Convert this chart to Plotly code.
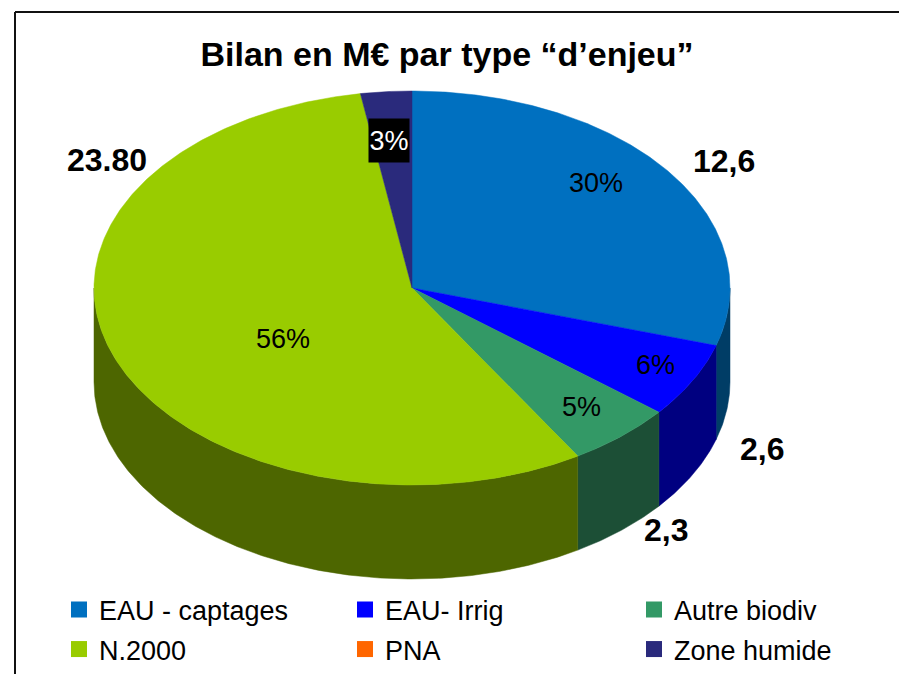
import math
import plotly.graph_objects as go

# Data
categories = ["EAU - captages", "EAU- Irrig", "Autre biodiv", "N.2000", "PNA", "Zone humide"]
values = [12.6, 2.6, 2.3, 23.8, 0.0, 1.1]
value_labels = ["12,6", "2,6", "2,3", "23.80", "", ""]
top_colors = ["#0070C0", "#0000FF", "#339966", "#99CC00", "#FF6600", "#2A2A7C"]
side_colors = ["#003D66", "#000080", "#1C4F36", "#4D6600", "#8C3800", "#161644"]

# Layout of the drawing (pixel scale of the axes)
CX, CY, RX, RY, DEPTH = 412, 288, 318, 197, 94
pct_pos = [(596, 183), (655, 365), (581, 407), (283, 339), None, (389, 140)]
val_pos = [(724, 161), (762, 449), (666, 530), (107, 160), None, None]
legend_x = [59, 345, 634, 59, 345, 634]
legend_row = [0, 0, 0, 1, 1, 1]

total = sum(values)


def pt(deg, dy=0):
    r = math.radians(deg)
    return CX + RX * math.sin(r), CY - RY * math.cos(r) + dy


def arc(a0, a1, dy=0):
    n = max(2, int(abs(a1 - a0)) * 2 + 1)
    return [pt(a0 + (a1 - a0) * i / (n - 1), dy) for i in range(n)]


fig = go.Figure()
angles = []
acc = 0.0
for v in values:
    angles.append((acc / total * 360, (acc + v) / total * 360))
    acc += v

# side walls: visible half of the cylinder
for (a0, a1), c in zip(angles, side_colors):
    s0, s1 = max(a0, 90), min(a1, 270)
    if s1 <= s0:
        continue
    pts = arc(s0, s1) + arc(s1, s0, DEPTH)
    pts.append(pts[0])
    fig.add_trace(go.Scatter(x=[p[0] for p in pts], y=[p[1] for p in pts], mode="lines",
                             fill="toself", fillcolor=c, line=dict(color=c, width=0.5),
                             showlegend=False, hoverinfo="skip"))
# top wedges
for (a0, a1), c in zip(angles, top_colors):
    if a1 <= a0:
        continue
    pts = [(CX, CY)] + arc(a0, a1) + [(CX, CY)]
    fig.add_trace(go.Scatter(x=[p[0] for p in pts], y=[p[1] for p in pts], mode="lines",
                             fill="toself", fillcolor=c, line=dict(color=c, width=0.5),
                             showlegend=False, hoverinfo="skip"))

# legend entries: one small legend per entry, laid out in three columns and two rows
legends = {}
for i, (name, c) in enumerate(zip(categories, top_colors)):
    key = "legend" if i == 0 else f"legend{i + 1}"
    fig.add_trace(go.Scatter(x=[None], y=[None], mode="markers", name=name,
                             marker=dict(symbol="square", size=17, color=c),
                             legend=key, hoverinfo="skip"))
    row_pos = dict(y=1 - 610 / 674, yanchor="middle") if legend_row[i] == 0 else dict(y=0, yanchor="bottom")
    legends[key] = dict(orientation="v", xanchor="left", x=legend_x[i] / 899, bgcolor="rgba(0,0,0,0)",
                        font=dict(family="Liberation Sans", size=27, color="black"),
                        itemclick=False, itemdoubleclick=False, **row_pos)

ann = []
for v, p in zip(values, pct_pos):
    if p is None:
        continue
    pct = f"{round(v / total * 100)}%"
    is_dark = pct == "3%"
    a = dict(x=p[0], y=p[1], xref="x", yref="y", text=pct, showarrow=False,
             font=dict(family="Liberation Sans", size=27, color="white" if is_dark else "black"))
    if is_dark:
        a.update(bgcolor="black", width=40, height=43, borderpad=0)
    ann.append(a)
for t, p in zip(value_labels, val_pos):
    if p is None:
        continue
    ann.append(dict(x=p[0], y=p[1], xref="x", yref="y", text=f"<b>{t}</b>", showarrow=False,
                    font=dict(family="Liberation Sans", size=32, color="black")))

fig.update_layout(
    width=899, height=674, margin=dict(l=0, r=0, t=0, b=0),
    paper_bgcolor="white", plot_bgcolor="white",
    xaxis=dict(range=[0, 899], visible=False, fixedrange=True),
    yaxis=dict(range=[674, 0], visible=False, fixedrange=True),
    title=dict(text="<b>Bilan en M€ par type “d’enjeu”</b>", x=447 / 899, xanchor="center",
               y=1 - 54 / 674, yanchor="middle",
               font=dict(family="Liberation Sans", size=34, color="black")),
    annotations=ann,
    shapes=[
        dict(type="line", xref="x", yref="y", x0=15, x1=15, y0=12, y1=674, line=dict(color="#111111", width=2)),
        dict(type="line", xref="x", yref="y", x0=15, x1=899, y0=12, y1=12, line=dict(color="#111111", width=2)),
    ],
    **legends,
)

fig.write_html("out.html", post_script="document.body.style.margin='0';",
               config=dict(displayModeBar=False))
